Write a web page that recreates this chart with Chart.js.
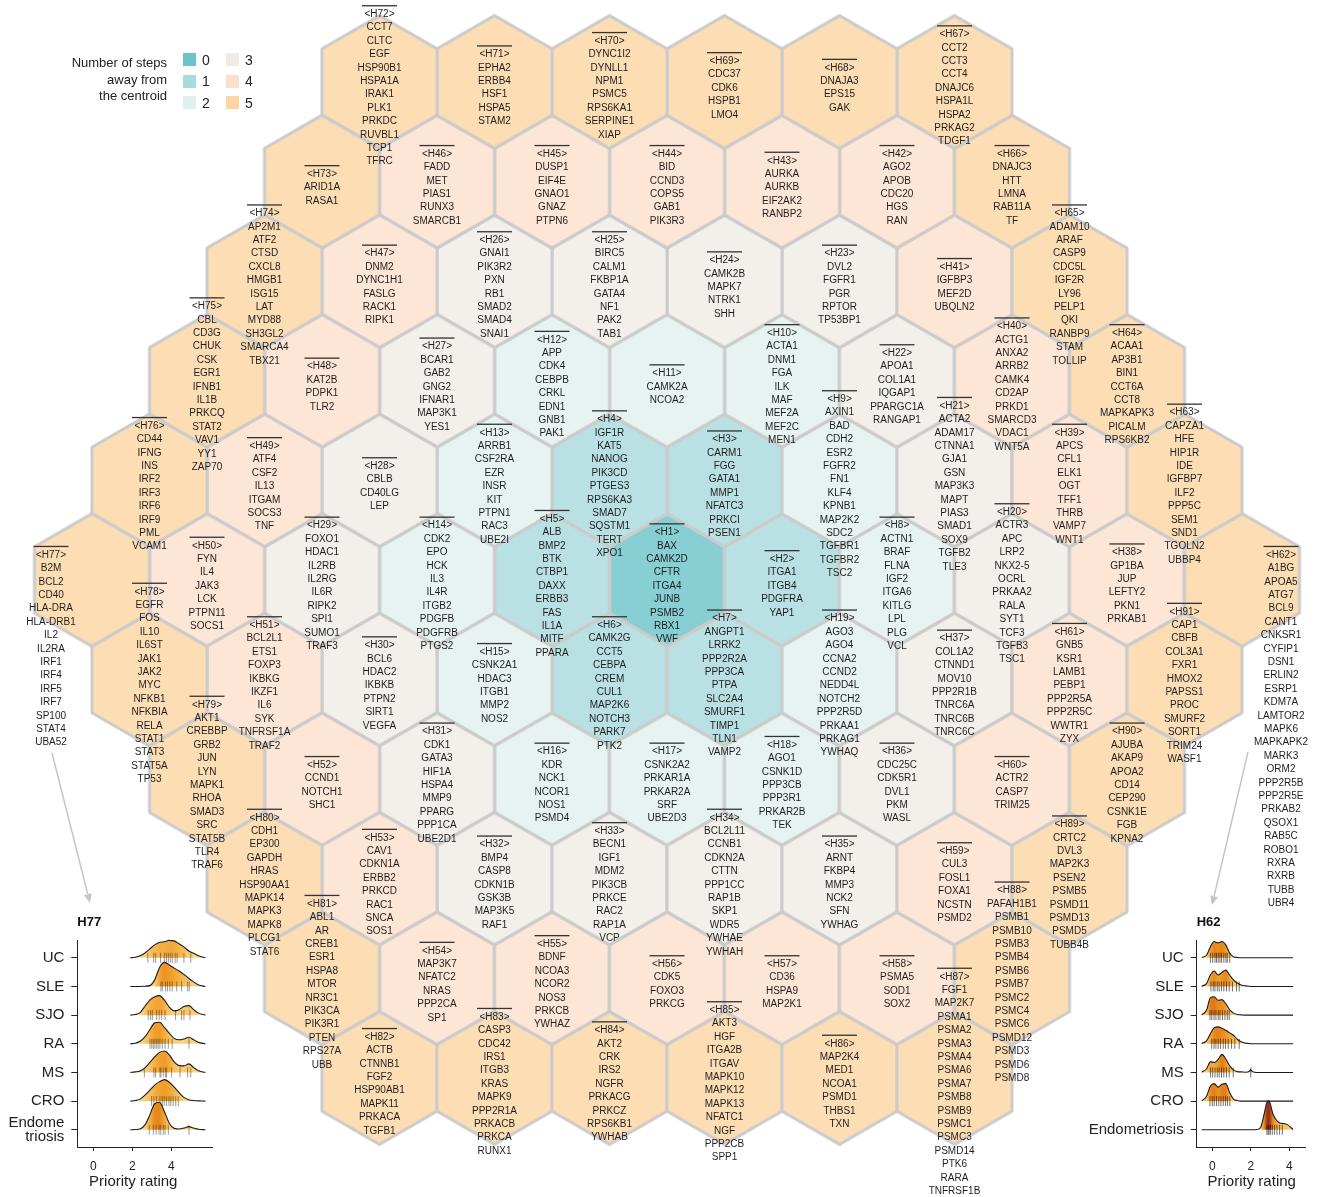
<!DOCTYPE html>
<html lang="en">
<head>
<meta charset="utf-8">
<title>Hexagonal gene map with priority-rating ridges</title>
<script src="https://cdn.jsdelivr.net/npm/chart.js@4.4.1/dist/chart.umd.min.js"></script>
<style>
  html, body { margin: 0; padding: 0; background: #ffffff; }
  #figure { position: relative; width: 1325px; height: 1197px; overflow: hidden;
            font-family: "Liberation Sans", Arial, Helvetica, sans-serif; color: #222; }
  #hexmap { position: absolute; left: 0; top: 0; }
  .ridge { position: absolute; }
  #legend-title { position: absolute; left: 0; top: 55px; width: 167px; text-align: right;
                  font-size: 13px; line-height: 16.7px; color: #222; }
  .sw { position: absolute; width: 13px; height: 13px; }
  .sw-label { position: absolute; font-size: 14px; line-height: 14px; color: #222; }
</style>
</head>
<body>
<div id="figure">
  <canvas id="hexmap" width="1325" height="1197"></canvas>
  <div class="ridge" style="left:0;top:905px;width:230px;height:292px"><canvas id="ridgeH77" width="230" height="292"></canvas></div>
  <div class="ridge" style="left:1090px;top:905px;width:235px;height:292px"><canvas id="ridgeH62" width="235" height="292"></canvas></div>
  <div id="legend-title">Number of steps<br>away from<br>the centroid</div>
  <div id="legend-keys"></div>
</div>
<script>
// ---------------------------------------------------------------------------
// Hexagon labels, their genes and the number of steps from the centroid hexagon
// ---------------------------------------------------------------------------
const HEX_LABELS = [
  'H1','H2','H3','H4','H5','H6','H7','H8','H9','H10','H11','H12','H13','H14','H15','H16','H17','H18','H19',
  'H20','H21','H22','H23','H24','H25','H26','H27','H28','H29','H30','H31','H32','H33','H34','H35','H36','H37',
  'H38','H39','H40','H41','H42','H43','H44','H45','H46','H47','H48','H49','H50','H51','H52','H53','H54','H55',
  'H56','H57','H58','H59','H60','H61','H62','H63','H64','H65','H66','H67','H68','H69','H70','H71','H72','H73',
  'H74','H75','H76','H77','H78','H79','H80','H81','H82','H83','H84','H85','H86','H87','H88','H89','H90','H91'
];

const HEX_STEPS = [
  0,
  1,1,1,1,1,1,
  2,2,2,2,2,2,2,2,2,2,2,2,
  3,3,3,3,3,3,3,3,3,3,3,3,3,3,3,3,3,3,
  4,4,4,4,4,4,4,4,4,4,4,4,4,4,4,4,4,4,4,4,4,4,4,4,
  5,5,5,5,5,5,5,5,5,5,5,5,5,5,5,5,5,5,5,5,5,5,5,5,5,5,5,5,5,5
];

const HEX_GENES = [
  ['BAX','CAMK2D','CFTR','ITGA4','JUNB','PSMB2','RBX1','VWF'],
  ['ITGA1','ITGB4','PDGFRA','YAP1'],
  ['CARM1','FGG','GATA1','MMP1','NFATC3','PRKCI','PSEN1'],
  ['IGF1R','KAT5','NANOG','PIK3CD','PTGES3','RPS6KA3','SMAD7','SQSTM1','TERT','XPO1'],
  ['ALB','BMP2','BTK','CTBP1','DAXX','ERBB3','FAS','IL1A','MITF','PPARA'],
  ['CAMK2G','CCT5','CEBPA','CREM','CUL1','MAP2K6','NOTCH3','PARK7','PTK2'],
  ['ANGPT1','LRRK2','PPP2R2A','PPP3CA','PTPA','SLC2A4','SMURF1','TIMP1','TLN1','VAMP2'],
  ['ACTN1','BRAF','FLNA','IGF2','ITGA6','KITLG','LPL','PLG','VCL'],
  ['AXIN1','BAD','CDH2','ESR2','FGFR2','FN1','KLF4','KPNB1','MAP2K2','SDC2','TGFBR1','TGFBR2','TSC2'],
  ['ACTA1','DNM1','FGA','ILK','MAF','MEF2A','MEF2C','MEN1'],
  ['CAMK2A','NCOA2'],
  ['APP','CDK4','CEBPB','CRKL','EDN1','GNB1','PAK1'],
  ['ARRB1','CSF2RA','EZR','INSR','KIT','PTPN1','RAC3','UBE2I'],
  ['CDK2','EPO','HCK','IL3','IL4R','ITGB2','PDGFB','PDGFRB','PTGS2'],
  ['CSNK2A1','HDAC3','ITGB1','MMP2','NOS2'],
  ['KDR','NCK1','NCOR1','NOS1','PSMD4'],
  ['CSNK2A2','PRKAR1A','PRKAR2A','SRF','UBE2D3'],
  ['AGO1','CSNK1D','PPP3CB','PPP3R1','PRKAR2B','TEK'],
  ['AGO3','AGO4','CCNA2','CCND2','NEDD4L','NOTCH2','PPP2R5D','PRKAA1','PRKAG1','YWHAQ'],
  ['ACTR3','APC','LRP2','NKX2-5','OCRL','PRKAA2','RALA','SYT1','TCF3','TGFB3','TSC1'],
  ['ACTA2','ADAM17','CTNNA1','GJA1','GSN','MAP3K3','MAPT','PIAS3','SMAD1','SOX9','TGFB2','TLE3'],
  ['APOA1','COL1A1','IQGAP1','PPARGC1A','RANGAP1'],
  ['DVL2','FGFR1','PGR','RPTOR','TP53BP1'],
  ['CAMK2B','MAPK7','NTRK1','SHH'],
  ['BIRC5','CALM1','FKBP1A','GATA4','NF1','PAK2','TAB1'],
  ['GNAI1','PIK3R2','PXN','RB1','SMAD2','SMAD4','SNAI1'],
  ['BCAR1','GAB2','GNG2','IFNAR1','MAP3K1','YES1'],
  ['CBLB','CD40LG','LEP'],
  ['FOXO1','HDAC1','IL2RB','IL2RG','IL6R','RIPK2','SPI1','SUMO1','TRAF3'],
  ['BCL6','HDAC2','IKBKB','PTPN2','SIRT1','VEGFA'],
  ['CDK1','GATA3','HIF1A','HSPA4','MMP9','PPARG','PPP1CA','UBE2D1'],
  ['BMP4','CASP8','CDKN1B','GSK3B','MAP3K5','RAF1'],
  ['BECN1','IGF1','MDM2','PIK3CB','PRKCE','RAC2','RAP1A','VCP'],
  ['BCL2L11','CCNB1','CDKN2A','CTTN','PPP1CC','RAP1B','SKP1','WDR5','YWHAE','YWHAH'],
  ['ARNT','FKBP4','MMP3','NCK2','SFN','YWHAG'],
  ['CDC25C','CDK5R1','DVL1','PKM','WASL'],
  ['COL1A2','CTNND1','MOV10','PPP2R1B','TNRC6A','TNRC6B','TNRC6C'],
  ['GP1BA','JUP','LEFTY2','PKN1','PRKAB1'],
  ['APCS','CFL1','ELK1','OGT','TFF1','THRB','VAMP7','WNT1'],
  ['ACTG1','ANXA2','ARRB2','CAMK4','CD2AP','PRKD1','SMARCD3','VDAC1','WNT5A'],
  ['IGFBP3','MEF2D','UBQLN2'],
  ['AGO2','APOB','CDC20','HGS','RAN'],
  ['AURKA','AURKB','EIF2AK2','RANBP2'],
  ['BID','CCND3','COPS5','GAB1','PIK3R3'],
  ['DUSP1','EIF4E','GNAO1','GNAZ','PTPN6'],
  ['FADD','MET','PIAS1','RUNX3','SMARCB1'],
  ['DNM2','DYNC1H1','FASLG','RACK1','RIPK1'],
  ['KAT2B','PDPK1','TLR2'],
  ['ATF4','CSF2','IL13','ITGAM','SOCS3','TNF'],
  ['FYN','IL4','JAK3','LCK','PTPN11','SOCS1'],
  ['BCL2L1','ETS1','FOXP3','IKBKG','IKZF1','IL6','SYK','TNFRSF1A','TRAF2'],
  ['CCND1','NOTCH1','SHC1'],
  ['CAV1','CDKN1A','ERBB2','PRKCD','RAC1','SNCA','SOS1'],
  ['MAP3K7','NFATC2','NRAS','PPP2CA','SP1'],
  ['BDNF','NCOA3','NCOR2','NOS3','PRKCB','YWHAZ'],
  ['CDK5','FOXO3','PRKCG'],
  ['CD36','HSPA9','MAP2K1'],
  ['PSMA5','SOD1','SOX2'],
  ['CUL3','FOSL1','FOXA1','NCSTN','PSMD2'],
  ['ACTR2','CASP7','TRIM25'],
  ['GNB5','KSR1','LAMB1','PEBP1','PPP2R5A','PPP2R5C','WWTR1','ZYX'],
  ['A1BG','APOA5','ATG7','BCL9','CANT1','CNKSR1','CYFIP1','DSN1','ERLIN2','ESRP1','KDM7A','LAMTOR2','MAPK6',
   'MAPKAPK2','MARK3','ORM2','PPP2R5B','PPP2R5E','PRKAB2','QSOX1','RAB5C','ROBO1','RXRA','RXRB','TUBB','UBR4'],
  ['CAPZA1','HFE','HIP1R','IDE','IGFBP7','ILF2','PPP5C','SEM1','SND1','TGOLN2','UBBP4'],
  ['ACAA1','AP3B1','BIN1','CCT6A','CCT8','MAPKAPK3','PICALM','RPS6KB2'],
  ['ADAM10','ARAF','CASP9','CDC5L','IGF2R','LY96','PELP1','QKI','RANBP9','STAM','TOLLIP'],
  ['DNAJC3','HTT','LMNA','RAB11A','TF'],
  ['CCT2','CCT3','CCT4','DNAJC6','HSPA1L','HSPA2','PRKAG2','TDGF1'],
  ['DNAJA3','EPS15','GAK'],
  ['CDC37','CDK6','HSPB1','LMO4'],
  ['DYNC1I2','DYNLL1','NPM1','PSMC5','RPS6KA1','SERPINE1','XIAP'],
  ['EPHA2','ERBB4','HSF1','HSPA5','STAM2'],
  ['CCT7','CLTC','EGF','HSP90B1','HSPA1A','IRAK1','PLK1','PRKDC','RUVBL1','TCP1','TFRC'],
  ['ARID1A','RASA1'],
  ['AP2M1','ATF2','CTSD','CXCL8','HMGB1','ISG15','LAT','MYD88','SH3GL2','SMARCA4','TBX21'],
  ['CBL','CD3G','CHUK','CSK','EGR1','IFNB1','IL1B','PRKCQ','STAT2','VAV1','YY1','ZAP70'],
  ['CD44','IFNG','INS','IRF2','IRF3','IRF6','IRF9','PML','VCAM1'],
  ['B2M','BCL2','CD40','HLA-DRA','HLA-DRB1','IL2','IL2RA','IRF1','IRF4','IRF5','IRF7','SP100','STAT4','UBA52'],
  ['EGFR','FOS','IL10','IL6ST','JAK1','JAK2','MYC','NFKB1','NFKBIA','RELA','STAT1','STAT3','STAT5A','TP53'],
  ['AKT1','CREBBP','GRB2','JUN','LYN','MAPK1','RHOA','SMAD3','SRC','STAT5B','TLR4','TRAF6'],
  ['CDH1','EP300','GAPDH','HRAS','HSP90AA1','MAPK14','MAPK3','MAPK8','PLCG1','STAT6'],
  ['ABL1','AR','CREB1','ESR1','HSPA8','MTOR','NR3C1','PIK3CA','PIK3R1','PTEN','RPS27A','UBB'],
  ['ACTB','CTNNB1','FGF2','HSP90AB1','MAPK11','PRKACA','TGFB1'],
  ['CASP3','CDC42','IRS1','ITGB3','KRAS','MAPK9','PPP2R1A','PRKACB','PRKCA','RUNX1'],
  ['AKT2','CRK','IRS2','NGFR','PRKACG','PRKCZ','RPS6KB1','YWHAB'],
  ['AKT3','HGF','ITGA2B','ITGAV','MAPK10','MAPK12','MAPK13','NFATC1','NGF','PPP2CB','SPP1'],
  ['MAP2K4','MED1','NCOA1','PSMD1','THBS1','TXN'],
  ['FGF1','MAP2K7','PSMA1','PSMA2','PSMA3','PSMA4','PSMA6','PSMA7','PSMB8','PSMB9','PSMC1','PSMC3','PSMD14',
   'PTK6','RARA','TNFRSF1B'],
  ['PAFAH1B1','PSMB1','PSMB10','PSMB3','PSMB4','PSMB6','PSMB7','PSMC2','PSMC4','PSMC6','PSMD12','PSMD3','PSMD6','PSMD8'],
  ['CRTC2','DVL3','MAP2K3','PSEN2','PSMB5','PSMD11','PSMD13','PSMD5','TUBB4B'],
  ['AJUBA','AKAP9','APOA2','CD14','CEP290','CSNK1E','FGB','KPNA2'],
  ['CAP1','CBFB','COL3A1','FXR1','HMOX2','PAPSS1','PROC','SMURF2','SORT1','TRIM24','WASF1']
];

// ---------------------------------------------------------------------------
// Ridge plots: priority rating of the genes of H77 and H62 in each disease
// ---------------------------------------------------------------------------
const RIDGE_CATEGORIES = ['UC', 'SLE', 'SJO', 'RA', 'MS', 'CRO', 'Endometriosis'];
const H77_AXIS_LABELS = ['UC', 'SLE', 'SJO', 'RA', 'MS', 'CRO', ['Endome', 'triosis']];
const H62_AXIS_LABELS = ['UC', 'SLE', 'SJO', 'RA', 'MS', 'CRO', 'Endometriosis'];
const PRIORITY_TICKS = [0, 2, 4];

// density curve heights (in units of one ridge row), sampled at the ratings below
const H77_RATING = [1.9, 2.15, 2.4, 2.65, 2.9, 3.15, 3.4, 3.65, 3.9, 4.15, 4.4, 4.65, 4.9, 5.15, 5.4, 5.75];
const H77_DENSITY = [
  [0, 0.02, 0.07, 0.17, 0.31, 0.45, 0.54, 0.56, 0.61, 0.59, 0.49, 0.38, 0.24, 0.16, 0.07, 0],
  [0, 0, 0, 0.01, 0.03, 0.23, 0.66, 0.84, 0.75, 0.64, 0.54, 0.42, 0.28, 0.16, 0.05, 0],
  [0, 0.02, 0.09, 0.31, 0.52, 0.64, 0.68, 0.52, 0.28, 0.15, 0.19, 0.30, 0.33, 0.19, 0.07, 0],
  [0, 0.02, 0.09, 0.24, 0.49, 0.73, 0.75, 0.57, 0.37, 0.19, 0.14, 0.17, 0.23, 0.14, 0.05, 0],
  [0, 0.02, 0.05, 0.16, 0.35, 0.54, 0.70, 0.75, 0.61, 0.37, 0.24, 0.23, 0.30, 0.17, 0.06, 0],
  [0, 0.02, 0.07, 0.21, 0.38, 0.56, 0.68, 0.75, 0.66, 0.49, 0.30, 0.13, 0.05, 0.02, 0.01, 0],
  [0, 0.01, 0.03, 0.17, 0.52, 0.91, 0.96, 0.63, 0.23, 0.05, 0.03, 0.06, 0.11, 0.06, 0.02, 0]
];
const H77_GENE_RATINGS = [
  [2.8, 3.1, 3.2, 3.45, 3.65, 3.75, 3.85, 3.95, 4.05, 4.2, 4.3, 4.65, 5.0],
  [3.47, 3.54, 3.71, 3.81, 3.93, 4.05, 4.28, 4.53, 4.84, 4.92],
  [2.82, 2.94, 3.03, 3.25, 3.38, 3.51, 3.68, 4.22, 4.53, 4.65, 4.96],
  [2.91, 3.0, 3.08, 3.16, 3.25, 3.33, 3.42, 3.54, 3.68, 3.85, 4.05, 4.91],
  [2.62, 3.11, 3.2, 3.42, 3.47, 3.59, 3.71, 3.76, 4.02, 4.45, 4.84, 5.0],
  [2.99, 3.11, 3.25, 3.42, 3.54, 3.64, 3.76, 3.88, 3.98, 4.1, 4.23, 4.36],
  [2.87, 3.08, 3.22, 3.37, 3.46, 3.59, 3.68, 3.85, 4.91]
];

const H62_RATING = [-0.55, -0.3, -0.1, 0.1, 0.3, 0.5, 0.7, 0.9, 1.1, 1.3, 1.5, 1.75, 1.9, 2.0, 2.1, 2.3, 2.5,
                    2.7, 2.8, 2.9, 3.0, 3.15, 3.3, 3.5, 3.7, 3.9, 4.2];
const H62_DENSITY = [
  [0.01, 0.09, 0.38, 0.57, 0.52, 0.57, 0.45, 0.17, 0.04, 0.01, 0, 0, 0, 0, 0, 0, 0, 0, 0, 0, 0, 0, 0, 0, 0, 0, 0],
  [0.01, 0.10, 0.40, 0.54, 0.40, 0.49, 0.57, 0.40, 0.23, 0.12, 0.05, 0.02, 0.01, 0, 0, 0, 0, 0, 0, 0, 0, 0, 0, 0, 0, 0, 0],
  [0.01, 0.17, 0.61, 0.64, 0.52, 0.54, 0.40, 0.19, 0.07, 0.02, 0.01, 0, 0, 0, 0, 0, 0, 0, 0, 0, 0, 0, 0, 0, 0, 0, 0],
  [0.01, 0.10, 0.35, 0.56, 0.59, 0.54, 0.47, 0.38, 0.30, 0.16, 0.07, 0.02, 0.01, 0, 0, 0, 0, 0, 0, 0, 0, 0, 0, 0, 0, 0, 0],
  [0.01, 0.12, 0.37, 0.35, 0.45, 0.63, 0.47, 0.24, 0.09, 0.03, 0.02, 0.01, 0.03, 0.09, 0.03, 0, 0, 0, 0, 0, 0, 0, 0, 0, 0, 0, 0],
  [0.01, 0.17, 0.52, 0.61, 0.49, 0.59, 0.61, 0.30, 0.07, 0.02, 0, 0, 0, 0, 0, 0, 0, 0, 0, 0, 0, 0, 0, 0, 0, 0, 0],
  [0, 0, 0, 0, 0, 0, 0, 0, 0, 0, 0, 0, 0, 0, 0, 0.01, 0.07, 0.56, 0.87, 1.01, 0.94, 0.56, 0.37, 0.24, 0.22, 0.18, 0.01]
];
const H62_GENE_RATINGS = [
  [-0.09, 0.02, 0.14, 0.22, 0.31, 0.40, 0.48, 0.60, 0.71, 0.78, 0.91],
  [-0.07, 0.05, 0.14, 0.26, 0.36, 0.48, 0.60, 0.74, 0.88, 1.05, 1.26, 1.4],
  [-0.12, -0.03, 0.09, 0.19, 0.31, 0.40, 0.53, 0.66, 0.78, 0.88],
  [-0.03, 0.09, 0.19, 0.31, 0.43, 0.57, 0.69, 0.83, 1.0, 1.17, 1.4],
  [-0.09, 0.02, 0.14, 0.26, 0.36, 0.48, 0.60, 0.74, 0.88, 1.09, 2.0],
  [-0.12, 0, 0.10, 0.22, 0.34, 0.45, 0.57, 0.69, 0.79, 0.91],
  [2.84, 2.9, 2.95, 3.02, 3.12, 3.24, 3.36, 3.5, 3.64]
];

// ---------------------------------------------------------------------------
// Styling and layout
// ---------------------------------------------------------------------------
const FONT_FAMILY = '"Liberation Sans", Arial, Helvetica, sans-serif';
const STEP_COLORS = ['#6cc4c9', '#a9dbdd', '#e0f0ee', '#f0ebe5', '#fce0cc', '#fdd5a3'];
const HEX_FILL_ALPHA = 0.82;
const HEX_EDGE = '#cbcbcb';
const HEX_W = 115;            // flat-to-flat width of one hexagon, px
const ROW_H = 99.6;           // vertical distance between hexagon rows, px
const MAP_CENTER = { x: 667, y: 580 };
const GENE_LINE_H = 13.4;
const GENE_TEXT_SHIFT = 6;
// two rim hexagons carry long gene lists that are set outside their cell
const TEXT_OFFSETS = { H77: { dx: -41, dy: -25 }, H62: { dx: 39, dy: -25 } };
// call-out arrows from a hexagon's gene list down to its ridge plot
const CALLOUTS = [
  { hex: 'H77', from: [-40, 173], to: [-2, 323] },
  { hex: 'H62', from: [6, 172], to: [-30, 325] }
];

// Hexagons are numbered along an outward spiral: ring k starts east of the centre
// and walks counter-clockwise.
function spiralCell(index) {
  if (index === 0) return { q: 0, r: 0 };
  let ring = 1, first = 1;
  while (index >= first + 6 * ring) { first += 6 * ring; ring++; }
  const dirs = [[0, -1], [-1, 0], [-1, 1], [0, 1], [1, 0], [1, -1]];
  let q = ring, r = 0;
  for (let s = 0; s < index - first; s++) {
    const d = dirs[Math.floor(s / ring)];
    q += d[0]; r += d[1];
  }
  return { q, r };
}

function makeHexSprite(color) {
  const R = HEX_W / Math.sqrt(3);
  const pad = 3;
  const c = document.createElement('canvas');
  c.width = Math.ceil(HEX_W + 2 * pad);
  c.height = Math.ceil(2 * R + 2 * pad);
  const g = c.getContext('2d');
  const cx = c.width / 2, cy = c.height / 2;
  g.beginPath();
  for (let k = 0; k < 6; k++) {
    const a = (60 * k - 90) * Math.PI / 180;
    const px = cx + R * Math.cos(a), py = cy + R * Math.sin(a);
    if (k === 0) g.moveTo(px, py); else g.lineTo(px, py);
  }
  g.closePath();
  g.fillStyle = '#ffffff';
  g.fill();
  g.globalAlpha = HEX_FILL_ALPHA;
  g.fillStyle = color;
  g.fill();
  g.globalAlpha = 1;
  g.lineWidth = 3;
  g.lineJoin = 'round';
  g.strokeStyle = HEX_EDGE;
  g.stroke();
  return c;
}
const HEX_SPRITES = STEP_COLORS.map(makeHexSprite);

const hexPoints = HEX_LABELS.map((label, i) => {
  const { q, r } = spiralCell(i);
  return { x: q + r / 2, y: r };
});

// gene lists written into every hexagon, headed by an over-lined "<Hn>" tag
const geneListPlugin = {
  id: 'geneLists',
  afterDatasetsDraw(chart) {
    const ctx = chart.ctx;
    const meta = chart.getDatasetMeta(0);
    ctx.save();
    ctx.font = '10px ' + FONT_FAMILY;
    ctx.textAlign = 'center';
    ctx.textBaseline = 'middle';
    meta.data.forEach((pt, i) => {
      const label = HEX_LABELS[i];
      const lines = ['<' + label + '>'].concat(HEX_GENES[i]);
      const off = TEXT_OFFSETS[label];
      let cx = pt.x, top;
      if (off) {
        cx += off.dx;
        top = pt.y + off.dy;
      } else {
        top = pt.y + GENE_TEXT_SHIFT - (lines.length - 1) * GENE_LINE_H / 2;
      }
      ctx.fillStyle = '#1e1e1e';
      lines.forEach((t, j) => ctx.fillText(t, cx, top + j * GENE_LINE_H));
      ctx.fillStyle = '#333333';
      ctx.fillRect(cx - 17.5, top - 9.2, 35, 1.3);
    });
    ctx.restore();
  },
  afterDraw(chart) {
    const ctx = chart.ctx;
    const meta = chart.getDatasetMeta(0);
    ctx.save();
    ctx.strokeStyle = '#c6c6c6';
    ctx.fillStyle = '#c6c6c6';
    ctx.lineWidth = 1.5;
    CALLOUTS.forEach(c => {
      const pt = meta.data[HEX_LABELS.indexOf(c.hex)];
      const x0 = pt.x + c.from[0], y0 = pt.y + c.from[1];
      const x1 = pt.x + c.to[0], y1 = pt.y + c.to[1];
      const ang = Math.atan2(y1 - y0, x1 - x0);
      const hl = 9, hw = 4;
      const bx = x1 - hl * Math.cos(ang), by = y1 - hl * Math.sin(ang);
      ctx.beginPath();
      ctx.moveTo(x0, y0);
      ctx.lineTo(bx, by);
      ctx.stroke();
      ctx.beginPath();
      ctx.moveTo(x1, y1);
      ctx.lineTo(bx + hw * Math.sin(ang), by - hw * Math.cos(ang));
      ctx.lineTo(bx - hw * Math.sin(ang), by + hw * Math.cos(ang));
      ctx.closePath();
      ctx.fill();
    });
    ctx.restore();
  }
};

const mapCanvas = document.getElementById('hexmap');
new Chart(mapCanvas, {
  type: 'scatter',
  data: {
    datasets: [{
      label: 'hexagons',
      data: hexPoints,
      pointStyle: c => (c.dataIndex === undefined ? 'circle' : HEX_SPRITES[HEX_STEPS[c.dataIndex]]),
      pointRadius: 1,
      pointHoverRadius: 1
    }]
  },
  options: {
    responsive: false,
    animation: false,
    devicePixelRatio: 1,
    events: [],
    layout: { padding: 0, autoPadding: false },
    plugins: { legend: { display: false }, tooltip: { enabled: false } },
    scales: {
      x: { type: 'linear', display: false,
           min: -MAP_CENTER.x / HEX_W, max: (mapCanvas.width - MAP_CENTER.x) / HEX_W },
      y: { type: 'linear', display: false, reverse: true,
           min: -MAP_CENTER.y / ROW_H, max: (mapCanvas.height - MAP_CENTER.y) / ROW_H }
    }
  },
  plugins: [geneListPlugin]
});

// ---------------------------------------------------------------------------
// Legend
// ---------------------------------------------------------------------------
const legendKeys = document.getElementById('legend-keys');
STEP_COLORS.forEach((color, step) => {
  const col = Math.floor(step / 3), row = step % 3;
  const left = 183 + col * 43, top = 53 + row * 21.5;
  const sw = document.createElement('div');
  sw.className = 'sw';
  sw.style.left = left + 'px';
  sw.style.top = top + 'px';
  sw.style.background = color;
  legendKeys.appendChild(sw);
  const lab = document.createElement('div');
  lab.className = 'sw-label';
  lab.style.left = (left + 19) + 'px';
  lab.style.top = (top - 0.5) + 'px';
  lab.textContent = String(step);
  legendKeys.appendChild(lab);
});

// ---------------------------------------------------------------------------
// Ridge charts
// ---------------------------------------------------------------------------
const FILL_RAMP = [
  [0.0, [250, 218, 150]], [0.3, [247, 195, 100]], [0.55, [243, 170, 55]], [0.8, [237, 145, 24]],
  [1.0, [228, 124, 10]], [1.3, [205, 86, 12]], [1.75, [135, 28, 16]]
];
function rampColor(t) {
  if (t <= FILL_RAMP[0][0]) return 'rgba(' + FILL_RAMP[0][1].join(',') + ',0.95)';
  for (let i = 1; i < FILL_RAMP.length; i++) {
    const [t1, c1] = FILL_RAMP[i];
    const [t0, c0] = FILL_RAMP[i - 1];
    if (t <= t1) {
      const f = (t - t0) / (t1 - t0);
      const c = c0.map((v, k) => Math.round(v + (c1[k] - v) * f));
      return 'rgba(' + c.join(',') + ',0.95)';
    }
  }
  return 'rgba(' + FILL_RAMP[FILL_RAMP.length - 1][1].join(',') + ',0.95)';
}

function ridgeGradient(chart, rating, dens, gain) {
  if (!chart.chartArea) return 'rgba(0,0,0,0)';
  const xs = chart.scales.x;
  const x0 = xs.getPixelForValue(rating[0]);
  const x1 = xs.getPixelForValue(rating[rating.length - 1]);
  const g = chart.ctx.createLinearGradient(x0, 0, x1, 0);
  rating.forEach((v, j) => {
    const t = (xs.getPixelForValue(v) - x0) / (x1 - x0);
    g.addColorStop(Math.min(1, Math.max(0, t)), rampColor(dens[j] * gain));
  });
  return g;
}

const axisCaptionPlugin = {
  id: 'axisCaption',
  afterDraw(chart, args, opts) {
    const ctx = chart.ctx;
    const xs = chart.scales.x;
    ctx.save();
    ctx.font = '15px ' + FONT_FAMILY;
    ctx.fillStyle = '#222';
    ctx.textAlign = 'center';
    ctx.textBaseline = 'middle';
    ctx.fillText(opts.text, xs.getPixelForValue(opts.at), xs.bottom - 15);
    ctx.restore();
  }
};

function buildRidgeChart(canvasId, cfg) {
  const n = RIDGE_CATEGORIES.length;
  const datasets = [];
  RIDGE_CATEGORIES.forEach((cat, k) => {
    const base = n - 1 - k;
    const dens = cfg.density[k];
    datasets.push({
      label: cat,
      data: cfg.rating.map((x, j) => ({ x, y: base + dens[j] })),
      fill: { value: base },
      backgroundColor: c => ridgeGradient(c.chart, cfg.rating, dens, cfg.gain),
      borderColor: '#1a1a1a',
      borderWidth: 1.1,
      pointRadius: 0,
      pointHoverRadius: 0,
      cubicInterpolationMode: 'monotone',
      clip: 6,
      order: (n - 1 - k) * 2 + 1
    });
    datasets.push({
      label: cat + ' genes',
      data: cfg.genes[k].map(x => ({ x, y: base })),
      showLine: false,
      pointStyle: 'line',
      pointRotation: 90,
      pointRadius: 5,
      pointHoverRadius: 5,
      pointBorderColor: cfg.rugColor,
      pointBorderWidth: 1,
      clip: 6,
      order: (n - 1 - k) * 2
    });
  });

  return new Chart(document.getElementById(canvasId), {
    type: 'line',
    data: { datasets },
    options: {
      responsive: false,
      animation: false,
      devicePixelRatio: 1,
      events: [],
      layout: { padding: { left: 0, right: cfg.padRight, top: 0, bottom: 0 }, autoPadding: false },
      plugins: {
        legend: { display: false },
        tooltip: { enabled: false },
        title: {
          display: true, text: cfg.title, align: 'start', fullSize: false,
          color: '#111', font: { family: FONT_FAMILY, size: 13, weight: 'bold' },
          padding: { top: 10, bottom: 10 }
        },
        axisCaption: { text: 'Priority rating', at: 2.05 }
      },
      scales: {
        x: {
          type: 'linear', min: cfg.xMin, max: cfg.xMax,
          afterBuildTicks: s => { s.ticks = PRIORITY_TICKS.map(v => ({ value: v })); },
          afterFit: s => { s.height = 50; },
          grid: { display: true, drawOnChartArea: false, drawTicks: true, tickLength: 4, tickColor: '#222' },
          border: { display: true, color: '#222', width: 1 },
          ticks: { color: '#222', font: { family: FONT_FAMILY, size: 12 }, padding: 8, maxRotation: 0, autoSkip: false }
        },
        y: {
          type: 'linear', min: -0.6, max: n - 1 + 0.6,
          afterBuildTicks: s => { s.ticks = RIDGE_CATEGORIES.map((c, k) => ({ value: n - 1 - k })); },
          afterFit: s => { s.width = cfg.yAxisWidth; },
          grid: { display: true, drawOnChartArea: false, drawTicks: true, tickLength: 6, tickColor: '#222' },
          border: { display: true, color: '#222', width: 1 },
          ticks: {
            color: '#222', font: { family: FONT_FAMILY, size: 15, lineHeight: 0.95 }, padding: 7, autoSkip: false,
            callback: v => cfg.axisLabels[n - 1 - Math.round(v)]
          }
        }
      }
    },
    plugins: [axisCaptionPlugin]
  });
}

buildRidgeChart('ridgeH77', {
  title: 'H77', rating: H77_RATING, density: H77_DENSITY, genes: H77_GENE_RATINGS,
  axisLabels: H77_AXIS_LABELS, xMin: -0.82, xMax: 6.09, yAxisWidth: 77.3, padRight: 18,
  gain: 1.0, rugColor: 'rgba(30,30,30,0.45)'
});
buildRidgeChart('ridgeH62', {
  title: 'H62', rating: H62_RATING, density: H62_DENSITY, genes: H62_GENE_RATINGS,
  axisLabels: H62_AXIS_LABELS, xMin: -0.81, xMax: 4.82, yAxisWidth: 106.7, padRight: 20,
  gain: 1.7, rugColor: 'rgba(20,20,20,0.6)'
});
</script>
</body>
</html>
